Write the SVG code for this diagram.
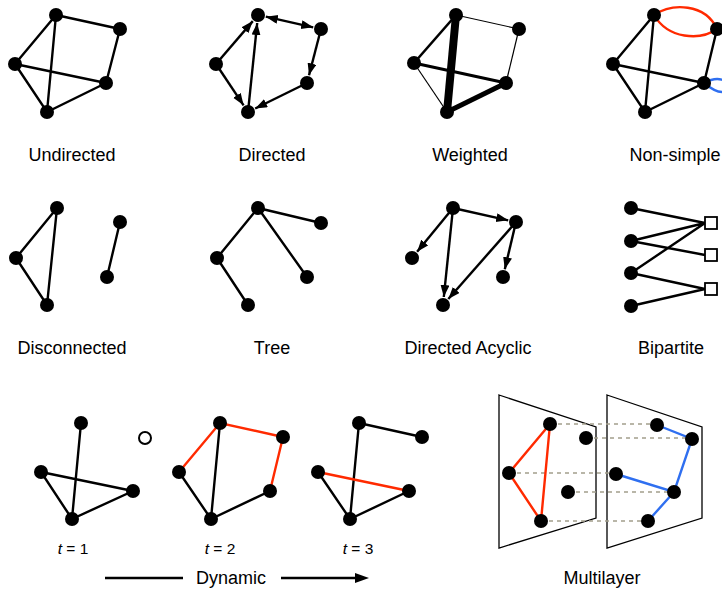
<svg xmlns="http://www.w3.org/2000/svg" width="722" height="589" viewBox="0 0 722 589">
<style>
.e{stroke:#000;stroke-width:2.4;fill:none}
.r{stroke:#ff2a00;stroke-width:2.4;fill:none}
.b{stroke:#2f6ff0;stroke-width:2.4;fill:none}
.d{stroke:#a29e8c;stroke-width:1.6;stroke-dasharray:4 4;fill:none}
.a{marker-end:url(#ah)}
.n{fill:#000}
.o{fill:#fff;stroke:#000;stroke-width:2}
.sq{fill:#fff;stroke:#000;stroke-width:1.8}
.pl{fill:#fff;stroke:#000;stroke-width:1.3}
text{font-family:"Liberation Sans",Arial,sans-serif;font-size:18px;fill:#000;text-anchor:middle}
.t{font-size:15.5px}
</style>
<defs>
<marker id="ah" markerUnits="userSpaceOnUse" markerWidth="13" markerHeight="10" refX="12" refY="4.5" orient="auto-start-reverse" viewBox="0 0 13 10"><path d="M0,0 L12,4.5 L0,9 z" fill="#000"/></marker>
</defs>

<g id="connectors">
<!-- Undirected -->
<path class="e" d="M56,15 L120,29 L106,83 M56,15 L15,64 M56,15 L47,112 M15,64 L106,83 M15,64 L47,112 L106,83"/>
<!-- Directed -->
<g class="e">
<line class="a" x1="216" y1="64" x2="252.8" y2="21.1"/>
<line class="a" x1="248" y1="112" x2="257.2" y2="23"/>
<line x1="265.8" y1="16.7" x2="313.2" y2="27.3" marker-start="url(#ah)" marker-end="url(#ah)"/>
<line class="a" x1="321" y1="29" x2="309" y2="75.3"/>
<line class="a" x1="307" y1="83" x2="255.2" y2="108.5"/>
<line class="a" x1="216" y1="64" x2="243.6" y2="105.3"/>
</g>
<!-- Weighted -->
<g stroke="#000" fill="none">
<line x1="456" y1="15" x2="447" y2="112" stroke-width="8"/>
<line x1="447" y1="112" x2="506" y2="83" stroke-width="5"/>
<line x1="414" y1="63" x2="506" y2="83" stroke-width="3"/>
<line x1="456" y1="15" x2="414" y2="63" stroke-width="2.5"/>
<line x1="456" y1="15" x2="519" y2="29" stroke-width="1.2"/>
<line x1="519" y1="29" x2="506" y2="83" stroke-width="1.2"/>
<line x1="414" y1="63" x2="447" y2="112" stroke-width="1.2"/>
</g>
<!-- Non-simple -->
<path class="e" d="M654,15 L613,64 M654,15 L645,112 M613,64 L704,83 M613,64 L645,112 L704,83 M717,29 L704,83"/>
<path class="r" d="M654,15 C672,3 705,3 717,29 M654,15 C668,39 700,41 717,29"/>
<path class="b" d="M704,83 C735,66 737,110 704,83"/>
<!-- Disconnected -->
<path class="e" d="M57,208 L16,258 L47,305 Z M120,222 L107,277"/>
<!-- Tree -->
<path class="e" d="M258,208 L321,223 M258,208 L217,258 L248,305 M258,208 L307,277"/>
<!-- DAG -->
<g class="e">
<line class="a" x1="453" y1="208" x2="508.2" y2="220.3"/>
<line class="a" x1="453" y1="208" x2="417.1" y2="251.8"/>
<line class="a" x1="453" y1="208" x2="443.8" y2="297"/>
<line class="a" x1="516" y1="222" x2="448.3" y2="299"/>
<line class="a" x1="516" y1="222" x2="504.8" y2="269.2"/>
</g>
<!-- Bipartite -->
<path class="e" d="M631,208 L705,223 M631,241 L705,223 M631,241 L705,255 M631,273 L705,223 M631,273 L705,289 M631,306 L705,289"/>
<!-- Dynamic t=1 -->
<path class="e" d="M81,423 L72,519 M41,472 L133,491 L72,519 Z"/>
<!-- t=2 -->
<path class="e" d="M220,423 L211,519 M179,472 L211,519 L270,491"/>
<path class="r" d="M179,472 L220,423 L283,437 L270,491"/>
<!-- t=3 -->
<path class="e" d="M422,437 L359,423 L350,519 L318,472 M350,519 L409,491"/>
<path class="r" d="M318,472 L409,491"/>
<!-- Dynamic arrow -->
<path class="e" d="M105,578 L183,578 M281,578 L357,578"/>
<path d="M355,573 L369,578 L355,583 Z" fill="#000"/>
</g>

<g id="multilayer">
<polygon class="pl" points="499,395 596,427 596,518 499,548"/>
<polygon class="pl" points="607,395 702,427 702,518 607,548"/>
<path class="d" d="M550,424 L657,424 M586,438 L692,438 M509,473 L616,473 M568,492 L674,492 M541,521 L648,521"/>
<path class="r" d="M550,424 L509,473 L541,521 Z"/>
<path class="b" d="M657,425 L692,439 L674,492 L616,474 M674,492 L648,521"/>
<g class="n">
<circle cx="550" cy="424" r="7"/><circle cx="586" cy="438" r="7"/><circle cx="509" cy="473" r="7"/><circle cx="568" cy="492" r="7"/><circle cx="541" cy="521" r="7"/>
<circle cx="657" cy="425" r="7"/><circle cx="692" cy="439" r="7"/><circle cx="616" cy="474" r="7"/><circle cx="674" cy="492" r="7"/><circle cx="648" cy="521" r="7"/>
</g>
<text x="602" y="584">Multilayer</text>
</g>

<g id="undirected" class="n">
<circle cx="56" cy="15" r="7"/><circle cx="120" cy="29" r="7"/><circle cx="15" cy="64" r="7"/><circle cx="106" cy="83" r="7"/><circle cx="47" cy="112" r="7"/>
<text x="72" y="161">Undirected</text>
</g>
<g id="directed" class="n">
<circle cx="258" cy="15" r="7"/><circle cx="321" cy="29" r="7"/><circle cx="216" cy="64" r="7"/><circle cx="307" cy="83" r="7"/><circle cx="248" cy="112" r="7"/>
<text x="272" y="161">Directed</text>
</g>
<g id="weighted" class="n">
<circle cx="456" cy="15" r="7"/><circle cx="519" cy="29" r="7"/><circle cx="414" cy="63" r="7"/><circle cx="506" cy="83" r="7"/><circle cx="447" cy="112" r="7"/>
<text x="470" y="161">Weighted</text>
</g>
<g id="nonsimple" class="n">
<circle cx="654" cy="15" r="7"/><circle cx="717" cy="29" r="7"/><circle cx="613" cy="64" r="7"/><circle cx="704" cy="83" r="7"/><circle cx="645" cy="112" r="7"/>
<text x="675" y="161">Non-simple</text>
</g>
<g id="disconnected" class="n">
<circle cx="57" cy="208" r="7"/><circle cx="120" cy="222" r="7"/><circle cx="16" cy="258" r="7"/><circle cx="107" cy="277" r="7"/><circle cx="47" cy="305" r="7"/>
<text x="72" y="354">Disconnected</text>
</g>
<g id="tree" class="n">
<circle cx="258" cy="208" r="7"/><circle cx="321" cy="223" r="7"/><circle cx="217" cy="258" r="7"/><circle cx="307" cy="277" r="7"/><circle cx="248" cy="305" r="7"/>
<text x="272" y="354">Tree</text>
</g>
<g id="dag" class="n">
<circle cx="453" cy="208" r="7"/><circle cx="516" cy="222" r="7"/><circle cx="412" cy="258" r="7"/><circle cx="503" cy="277" r="7"/><circle cx="443" cy="305" r="7"/>
<text x="468" y="354">Directed Acyclic</text>
</g>
<g id="bipartite">
<g class="n"><circle cx="631" cy="208" r="7"/><circle cx="631" cy="241" r="7"/><circle cx="631" cy="273" r="7"/><circle cx="631" cy="306" r="7"/></g>
<rect class="sq" x="705" y="217" width="12" height="12"/><rect class="sq" x="705" y="249" width="12" height="12"/><rect class="sq" x="705" y="283" width="12" height="12"/>
<text x="671" y="354">Bipartite</text>
</g>
<g id="dynamic-t1" class="n">
<circle cx="81" cy="423" r="7"/><circle cx="41" cy="472" r="7"/><circle cx="133" cy="491" r="7"/><circle cx="72" cy="519" r="7"/>
<circle class="o" cx="145" cy="438" r="6"/>
<text class="t" x="73" y="554"><tspan font-style="italic">t</tspan> = 1</text>
</g>
<g id="dynamic-t2" class="n">
<circle cx="220" cy="423" r="7"/><circle cx="283" cy="437" r="7"/><circle cx="179" cy="472" r="7"/><circle cx="270" cy="491" r="7"/><circle cx="211" cy="519" r="7"/>
<text class="t" x="220" y="554"><tspan font-style="italic">t</tspan> = 2</text>
</g>
<g id="dynamic-t3" class="n">
<circle cx="359" cy="423" r="7"/><circle cx="422" cy="437" r="7"/><circle cx="318" cy="472" r="7"/><circle cx="409" cy="491" r="7"/><circle cx="350" cy="519" r="7"/>
<text class="t" x="358" y="554"><tspan font-style="italic">t</tspan> = 3</text>
</g>
<g id="dynamic-label"><text x="231" y="584">Dynamic</text></g>
</svg>
